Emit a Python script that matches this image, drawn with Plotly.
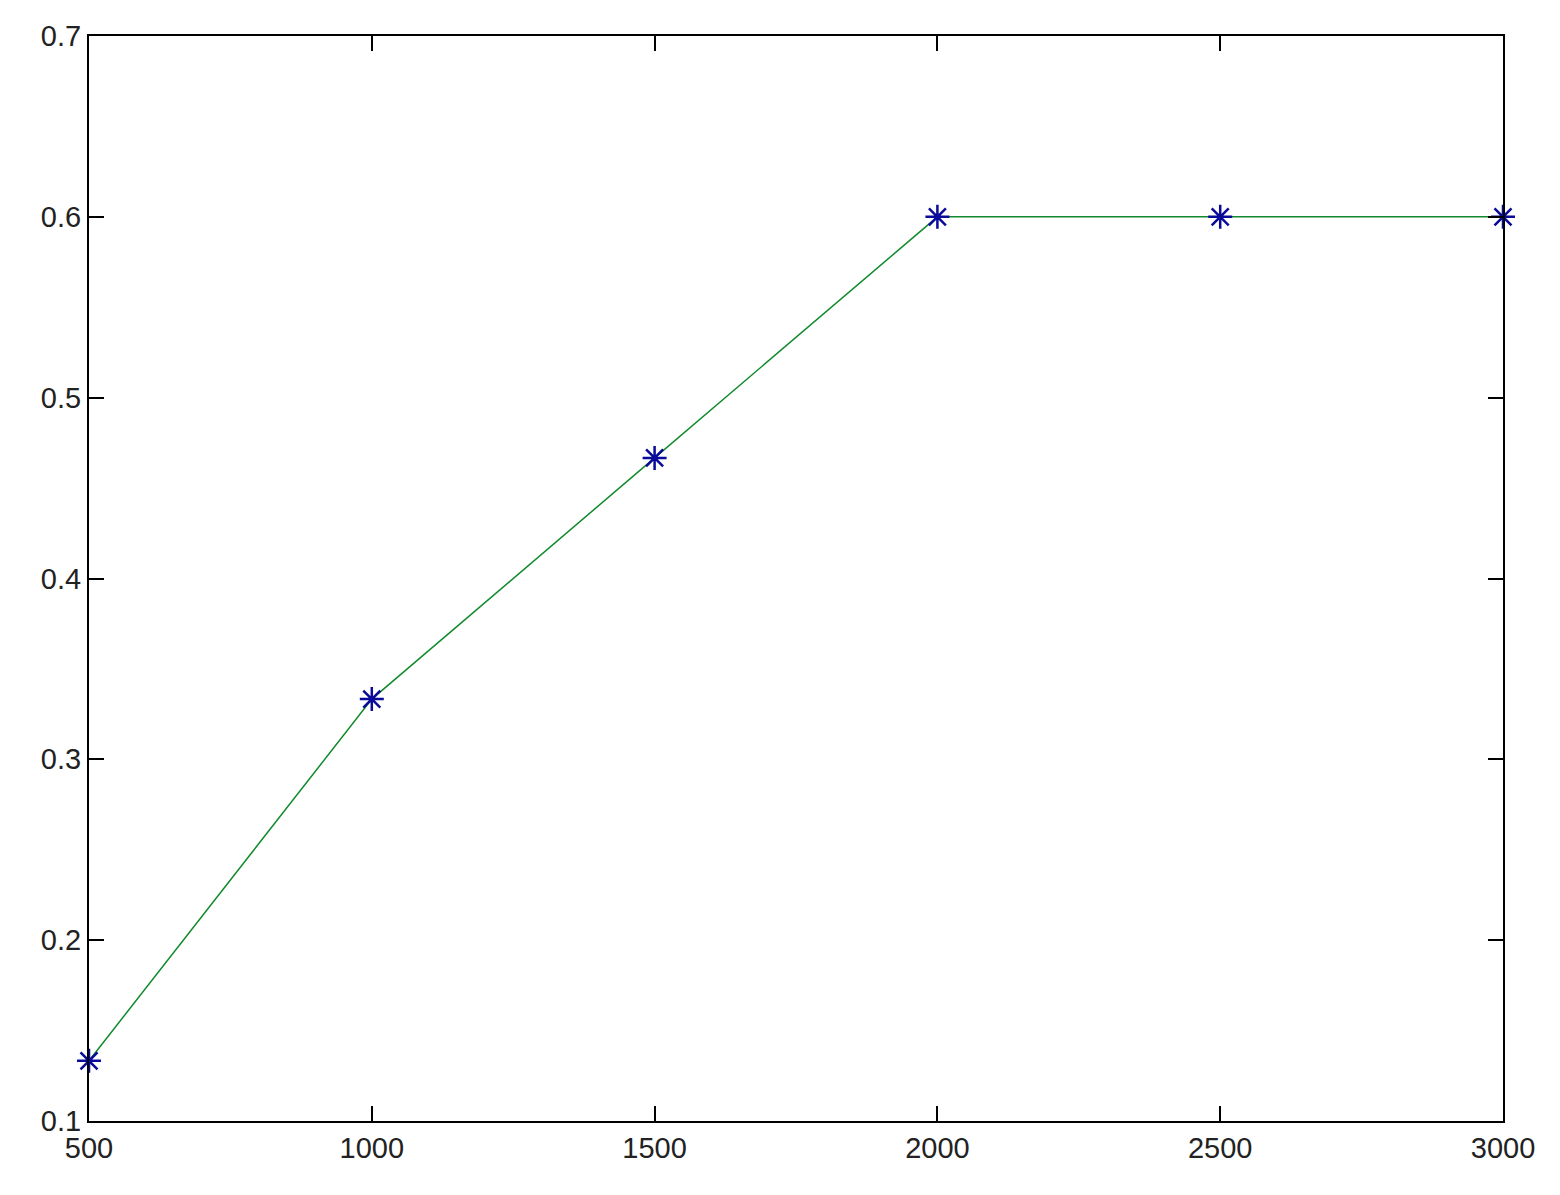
import plotly.graph_objects as go

# ---------- Data ----------
x_vals = [500, 1000, 1500, 2000, 2500, 3000]
y_vals = [0.1333, 0.3333, 0.4667, 0.6, 0.6, 0.6]
x_ticks = [500, 1000, 1500, 2000, 2500, 3000]
y_ticks = [0.1, 0.2, 0.3, 0.4, 0.5, 0.6, 0.7]

fig = go.Figure()
# green connecting line
fig.add_trace(go.Scatter(x=x_vals, y=y_vals, mode='lines',
                         line=dict(color='#108a2c', width=1.5),
                         showlegend=False, cliponaxis=False))
# blue star markers
fig.add_trace(go.Scatter(x=x_vals, y=y_vals, mode='markers',
                         marker=dict(symbol='asterisk-open', size=20, color='#0a0a9a',
                                     line=dict(color='#0a0a9a', width=2.5)),
                         showlegend=False, cliponaxis=False))

axis_common = dict(showgrid=False, zeroline=False, showline=True, linecolor='black',
                   linewidth=2, mirror='allticks', ticks='inside', ticklen=15,
                   tickwidth=1.5, tickcolor='black', automargin=False,
                   tickfont=dict(family='Liberation Sans, Arial', size=29, color='#222'))

# page body adds an 8px offset, margins are trimmed to match
fig.update_layout(
    width=1560, height=1195,
    margin=dict(l=81, r=65, t=28, b=82),
    plot_bgcolor='white', paper_bgcolor='white',
    xaxis=dict(range=[500, 3000], tickvals=x_ticks, ticktext=[str(v) for v in x_ticks], **axis_common),
    yaxis=dict(range=[0.1, 0.7], tickvals=y_ticks, ticktext=[f'{v:.1f}' for v in y_ticks], **axis_common),
)
fig.write_html("out.html")
